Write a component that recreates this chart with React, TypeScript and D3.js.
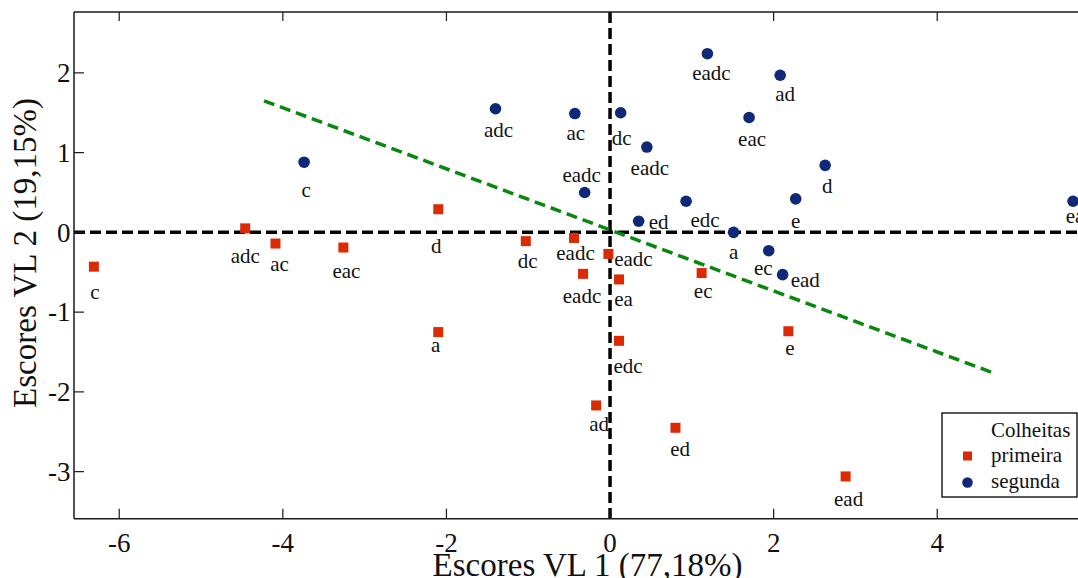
import React from "react";
import * as d3 from "d3";

// ---- data ----
const primeiraLabels = ["c", "adc", "ac", "eac", "d", "dc", "eadc", "eadc", "eadc", "ea", "ec", "a", "edc", "ad", "ed", "e", "ead"];
const primeiraX = [-6.31, -4.46, -4.09, -3.26, -2.10, -1.03, -0.44, -0.02, -0.33, 0.11, 1.12, -2.10, 0.11, -0.17, 0.80, 2.18, 2.88];
const primeiraY = [-0.43, 0.05, -0.14, -0.19, 0.29, -0.11, -0.07, -0.27, -0.52, -0.59, -0.51, -1.25, -1.36, -2.17, -2.45, -1.24, -3.06];

const segundaLabels = ["c", "adc", "ac", "dc", "eadc", "eadc", "ed", "edc", "eadc", "ad", "eac", "d", "e", "a", "ec", "ead", "ea"];
const segundaX = [-3.74, -1.40, -0.43, 0.13, 0.45, -0.31, 0.35, 0.93, 1.19, 2.08, 1.70, 2.63, 2.27, 1.51, 1.94, 2.11, 5.66];
const segundaY = [0.88, 1.55, 1.49, 1.50, 1.07, 0.50, 0.14, 0.39, 2.24, 1.97, 1.44, 0.84, 0.42, 0.0, -0.23, -0.53, 0.39];

const loadingLineX = [-4.23, 4.68];
const loadingLineY = [1.65, -1.76];

const xTicks = [-6, -4, -2, 0, 2, 4];
const yTicks = [-3, -2, -1, 0, 1, 2];

const xTitle = "Escores VL 1 (77,18%)";
const yTitle = "Escores VL 2 (19,15%)";
const legendTitle = "Colheitas";
const seriesNames = ["primeira", "segunda"];

// ---- label placement (layout only): [dx, dy, anchor] ----
const primeiraLabelPos: [number, number, string][] = [
  [1, 32, "middle"], [0, 35, "middle"], [4, 27, "middle"], [3, 30, "middle"], [-2, 44, "middle"],
  [2, 27, "middle"], [1.5, 22, "middle"], [25, 12, "middle"], [-1, 29, "middle"], [4.6, 27, "middle"],
  [1.5, 25, "middle"], [-2.5, 20, "middle"], [9, 32, "middle"], [3, 26, "middle"], [4.7, 28.7, "middle"],
  [1.5, 24, "middle"], [3, 30, "middle"],
];
const segundaLabelPos: [number, number, string][] = [
  [2, 35, "middle"], [3, 28, "middle"], [1, 26, "middle"], [1, 32, "middle"], [3, 28, "middle"],
  [-3, -10.7, "middle"], [10, 7.6, "start"], [19, 26, "middle"], [4, 26, "middle"], [5, 26, "middle"],
  [3, 28, "middle"], [2, 28, "middle"], [0, 29, "middle"], [0, 27, "middle"], [-5.5, 24, "middle"],
  [8, 12, "start"], [2, 22, "middle"],
];

const RED = "#dc2a04";
const BLUE = "#0f2878";
const GREEN = "#0a870f";
const FONT = "'Liberation Serif', 'Times New Roman', serif";

export default function App() {
  const W = 1078, H = 578;
  const left = 74, top = 12, bottom = 518.7;
  const x = d3.scaleLinear().domain([-6.553, 5.8]).range([left, left + 12.353 * 81.8]);
  const y = d3.scaleLinear().domain([-3.59, 2.763]).range([bottom, top]);

  const line = d3.line<[number, number]>().x((d) => x(d[0])).y((d) => y(d[1]));
  const greenPts: [number, number][] = loadingLineX.map((v, i) => [v, loadingLineY[i]]);
  const xDom = x.domain();
  const yDom = y.domain();

  const primeira = primeiraX.map((v, i) => ({ x: v, y: primeiraY[i], label: primeiraLabels[i], pos: primeiraLabelPos[i] }));
  const segunda = segundaX.map((v, i) => ({ x: v, y: segundaY[i], label: segundaLabels[i], pos: segundaLabelPos[i] }));

  const sq = 10;
  const axisColor = "#1a1a1a";

  return (
    <svg width={W} height={H} style={{ position: "absolute", left: 0, top: 0, background: "#fff" }} fontFamily={FONT}>
      <rect x={0} y={0} width={W} height={H} fill="#fff" />
      {/* zero lines */}
      <path d={line([[xDom[0], 0], [xDom[1], 0]]) || ""} stroke="#000" strokeWidth={3.5} strokeDasharray="11,5" fill="none" />
      <path d={line([[0, yDom[1]], [0, yDom[0]]]) || ""} stroke="#000" strokeWidth={3.5} strokeDasharray="11,5" fill="none" />
      {/* green loading line */}
      <path d={line(greenPts) || ""} stroke={GREEN} strokeWidth={3.5} strokeDasharray="11,6" fill="none" />

      {/* axes frame */}
      <line x1={left} x2={left} y1={top} y2={bottom} stroke={axisColor} strokeWidth={1.5} />
      <line x1={left} x2={W + 20} y1={top} y2={top} stroke={axisColor} strokeWidth={1.5} />
      <line x1={left} x2={W + 20} y1={bottom} y2={bottom} stroke={axisColor} strokeWidth={1.5} />
      {xTicks.map((t) => (
        <g key={"xt" + t}>
          <line x1={x(t)} x2={x(t)} y1={bottom} y2={bottom - 10} stroke={axisColor} strokeWidth={1.2} />
          <line x1={x(t)} x2={x(t)} y1={top} y2={top + 9} stroke={axisColor} strokeWidth={1.2} />
          <text x={x(t)} y={bottom + 33} fontSize={27} textAnchor="middle" fill="#111">{t < 0 ? "-" + Math.abs(t) : String(t)}</text>
        </g>
      ))}
      {yTicks.map((t) => (
        <g key={"yt" + t}>
          <line x1={left} x2={left + 10} y1={y(t)} y2={y(t)} stroke={axisColor} strokeWidth={1.2} />
          <text x={70.5} y={y(t) + 9.3} fontSize={27} textAnchor="end" fill="#111">{t < 0 ? "-" + Math.abs(t) : String(t)}</text>
        </g>
      ))}

      {/* points */}
      {primeira.map((p, i) => (
        <rect key={"p" + i} x={x(p.x) - sq / 2} y={y(p.y) - sq / 2} width={sq} height={sq} fill={RED} />
      ))}
      {segunda.map((p, i) => (
        <circle key={"s" + i} cx={x(p.x)} cy={y(p.y)} r={5.8} fill={BLUE} />
      ))}
      {primeira.map((p, i) => (
        <text key={"pl" + i} x={x(p.x) + p.pos[0]} y={y(p.y) + p.pos[1]} fontSize={21} textAnchor={p.pos[2]} fill="#111">{p.label}</text>
      ))}
      {segunda.map((p, i) => (
        <text key={"sl" + i} x={x(p.x) + p.pos[0]} y={y(p.y) + p.pos[1]} fontSize={21} textAnchor={p.pos[2]} fill="#111">{p.label}</text>
      ))}

      {/* titles */}
      <text x={587.5} y={576} fontSize={33} textAnchor="middle" fill="#111">{xTitle}</text>
      <text transform={`translate(36,253) rotate(-90)`} fontSize={33} textAnchor="middle" fill="#111">{yTitle}</text>

      {/* legend */}
      <g>
        <rect x={942} y={413} width={135} height={84} fill="#fff" stroke="#000" strokeWidth={1.3} />
        <text x={991} y={437} fontSize={21} fill="#111">{legendTitle}</text>
        <rect x={967.5 - 4.5} y={456 - 4.5} width={9} height={9} fill={RED} />
        <text x={991} y={461.5} fontSize={21} fill="#111">{seriesNames[0]}</text>
        <circle cx={967.5} cy={482.5} r={5.3} fill={BLUE} />
        <text x={991} y={487.5} fontSize={21} fill="#111">{seriesNames[1]}</text>
      </g>
    </svg>
  );
}
